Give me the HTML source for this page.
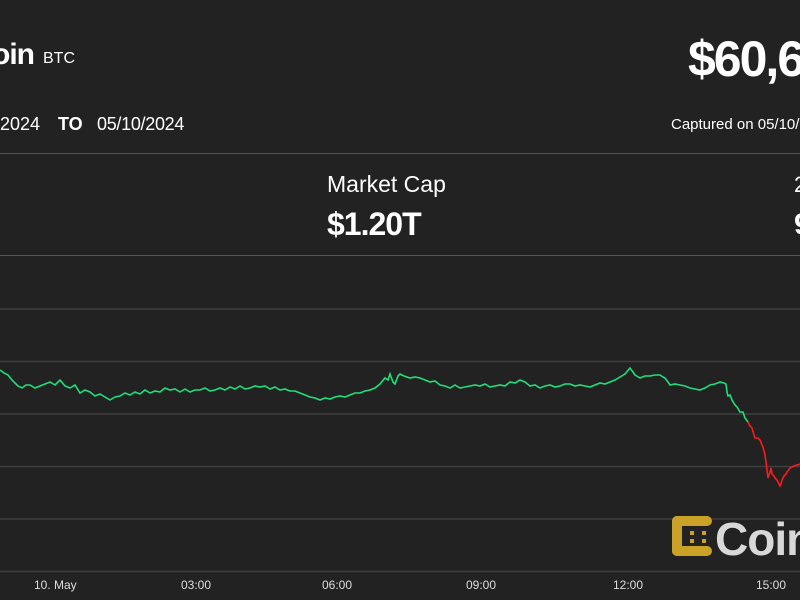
<!DOCTYPE html>
<html><head><meta charset="utf-8"><style>
body{margin:0;width:800px;height:600px;background:#222222;overflow:hidden;position:relative;font-family:"Liberation Sans",sans-serif;color:#fff}
.t{position:absolute;white-space:nowrap}
</style></head><body>
<div class="t" style="left:-8px;top:38px;font-size:30px;font-weight:bold;letter-spacing:-1px">oin</div>
<div class="t" style="left:43px;top:50px;font-size:16px">BTC</div>
<div class="t" style="left:688px;top:30px;font-size:50px;font-weight:bold;letter-spacing:-2px">$60,6</div>
<div class="t" style="left:0;top:114px;font-size:18px">2024</div>
<div class="t" style="left:58px;top:114px;font-size:18px;font-weight:bold">TO</div>
<div class="t" style="left:97px;top:114px;font-size:18px;letter-spacing:-0.3px">05/10/2024</div>
<div class="t" style="left:671px;top:116px;font-size:15px">Captured on 05/10/</div>
<div style="position:absolute;left:0;top:153px;width:800px;height:1px;background:#555"></div>
<div class="t" style="left:327px;top:171px;font-size:23px">Market Cap</div>
<div class="t" style="left:327px;top:206px;font-size:32px;font-weight:bold;letter-spacing:-1px">$1.20T</div>
<div class="t" style="left:794px;top:172px;font-size:22px">2</div>
<div class="t" style="left:794px;top:208px;font-size:30px;font-weight:bold">9</div>
<div style="position:absolute;left:0;top:255px;width:800px;height:1px;background:#555"></div>
<svg width="800" height="600" style="position:absolute;left:0;top:0">
<g stroke="#3e3e3e" stroke-width="1.5">
<line x1="0" y1="309" x2="800" y2="309"/><line x1="0" y1="361.5" x2="800" y2="361.5"/><line x1="0" y1="414" x2="800" y2="414"/><line x1="0" y1="466.5" x2="800" y2="466.5"/><line x1="0" y1="519" x2="800" y2="519"/><line x1="0" y1="571.5" x2="800" y2="571.5"/>
</g>
<polyline fill="none" stroke="#1ee07a" stroke-width="1.6" points="0,370 4,373 8,375 12,380 15,383 18,386 22,388 26,385 30,385 35,388 40,386 45,384 50,382 55,385 60,380 65,386 70,388 75,385 80,393 85,390 90,392 95,396 100,394 105,397 110,400 115,397 120,396 125,393 130,395 135,392 140,394 145,390 150,393 155,391 160,392 165,388 170,390 175,389 180,392 185,389 190,392 195,390 200,390 205,388 210,391 215,390 220,388 225,390 230,387 235,389 240,386 245,389 250,388 255,386 260,387 265,386 270,389 275,387 280,390 285,389 290,391 295,391 300,393 305,395 310,397 315,398 320,400 325,398 330,399 335,397 340,396 345,397 350,395 355,393 360,393 365,391 370,390 375,388 380,384 385,378 388,380 390,374 393,382 395,384 398,376 400,374 404,376 410,378 415,377 420,378 425,380 430,382 435,381 440,385 445,386 450,388 455,385 460,388 465,387 470,386 475,385 480,386 485,384 490,387 495,386 500,385 505,386 510,382 515,383 520,380 525,382 530,386 535,385 540,388 545,386 550,385 555,387 560,386 565,384 570,384 575,386 580,385 585,386 590,387 595,385 600,383 605,384 610,382 615,380 620,377 625,374 630,368 633,372 635,375 640,378 645,376 650,376 655,375 660,375 663,377 665,378 668,382 670,385 675,384 680,385 685,386 690,388 695,389 700,390 705,388 710,385 715,384 720,382 724,383 726,384 727,392 728,396 730,395 732,400 735,405 737,407 740,412 743,412 745,418 748,422"/>
<polyline fill="none" stroke="#ff1a1a" stroke-width="1.6" points="748,422 750,426 752,428 754,435 755,438 758,438 760,440 762,445 763,447 765,455 766,462 767,470 768,478 770,472 771,468 772,474 774,476 775,478 777,480 778,482 780,486 781,484 782,480 784,476 786,474 787,472 790,468 792,467 794,466 797,465 800,464"/>
</svg>
<div class="t" style="left:670px;top:514px;width:40px;height:42px">
<svg width="44" height="44"><g fill="#c9a227"><rect x="2" y="2" width="10" height="40" rx="5"/><rect x="2" y="2" width="40" height="10" rx="5"/><rect x="2" y="32" width="40" height="10" rx="5"/><rect x="20" y="17" width="4" height="4"/><rect x="20" y="25" width="4" height="4"/><rect x="32" y="17" width="4" height="4"/><rect x="32" y="25" width="4" height="4"/></g></svg></div>
<div class="t" style="left:715px;top:512px;font-size:46px;font-weight:bold;color:#d8d8d8;letter-spacing:-1px">Coin</div>
<div class="t" style="left:34px;top:578px;font-size:12px;color:#ddd">10. May</div>
<div class="t" style="left:181px;top:578px;font-size:12px;color:#ddd">03:00</div>
<div class="t" style="left:322px;top:578px;font-size:12px;color:#ddd">06:00</div>
<div class="t" style="left:466px;top:578px;font-size:12px;color:#ddd">09:00</div>
<div class="t" style="left:613px;top:578px;font-size:12px;color:#ddd">12:00</div>
<div class="t" style="left:756px;top:578px;font-size:12px;color:#ddd">15:00</div>
</body></html>
